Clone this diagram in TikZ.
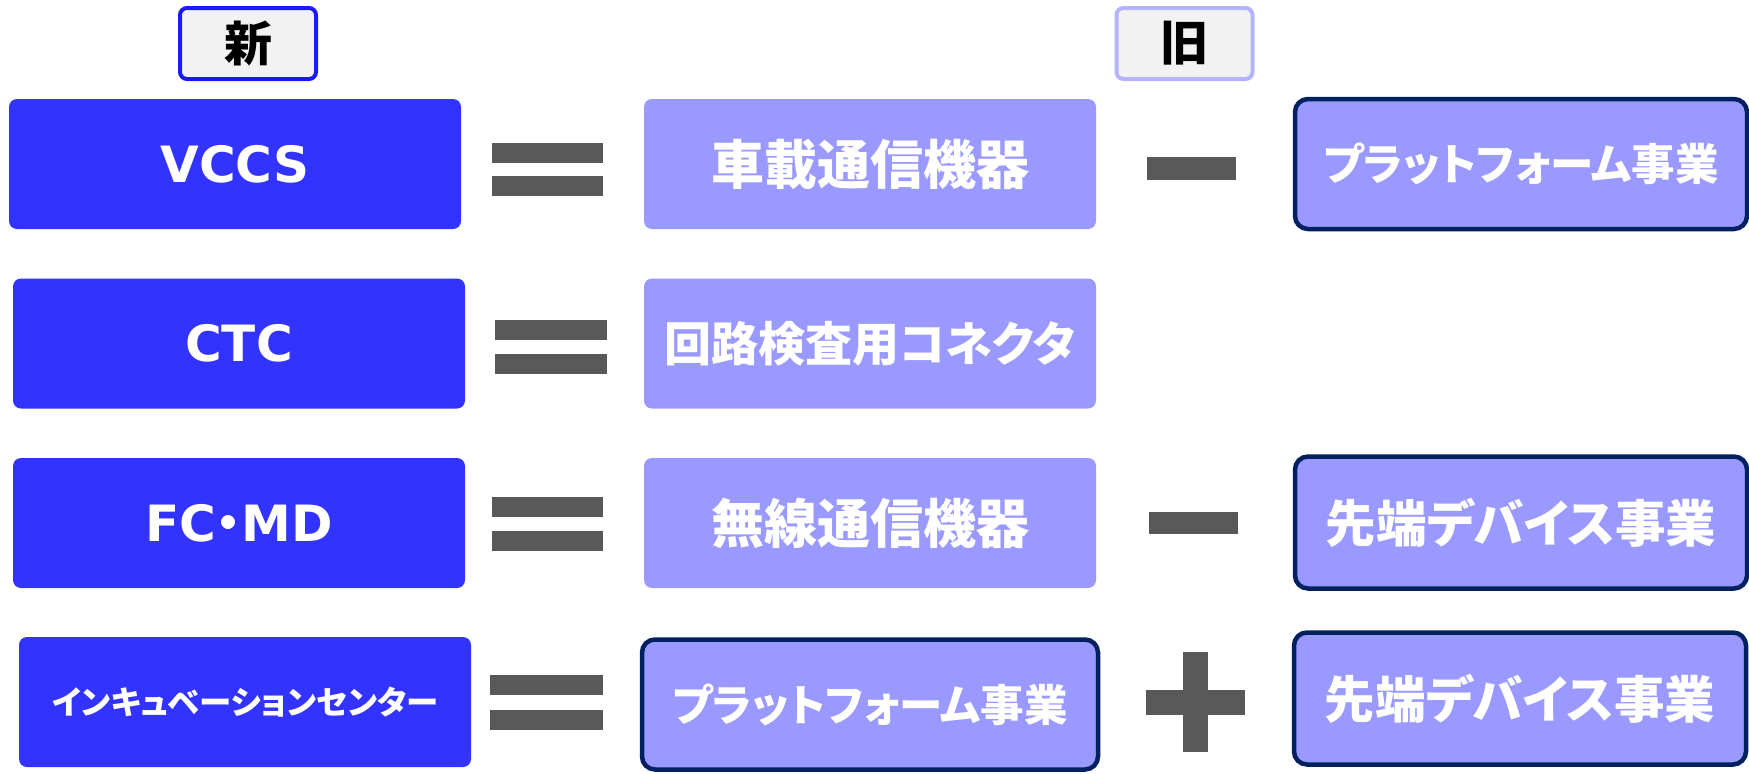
\documentclass[tikz,border=0pt]{standalone}
\usepackage{fontspec}
\newfontfamily\jpfont{Noto Sans CJK JP}[RawFeature=+palt]
\newfontfamily\latfont{DejaVu Sans}
\usetikzlibrary{positioning}

\definecolor{newblue}{HTML}{3333FF}
\definecolor{oldblue}{HTML}{9999FF}
\definecolor{navyline}{HTML}{002060}
\definecolor{signgray}{HTML}{595959}
\definecolor{headfill}{HTML}{F2F2F2}
\definecolor{newedge}{HTML}{1A1AFF}
\definecolor{oldedge}{HTML}{B3B3FF}

\tikzset{
	newbox/.style={fill=newblue, rounded corners=8pt, minimum width=452pt, minimum height=130pt, text=white, inner sep=0pt},
	oldbox/.style={fill=oldblue, rounded corners=8pt, minimum width=452pt, minimum height=130pt, text=white, inner sep=0pt},
	bizbox/.style={oldbox, draw=navyline, line width=4.5pt, rounded corners=13pt},
	headbox/.style={fill=headfill, line width=4pt, rounded corners=7pt, minimum width=136pt, minimum height=71pt, inner sep=0pt},
	sign/.style={fill=signgray},
	jptxt/.style={font=\jpfont\bfseries\fontsize{#1}{#1}\selectfont},
	latxt/.style={font=\latfont\bfseries\fontsize{50}{60}\selectfont}
}

\begin{document}
\begin{tikzpicture}[x=1pt, y=-1pt]
		%%%%% START %%%%%
		\useasboundingbox (0,0) rectangle (1749,774);
		
		% headings
		\node[headbox, draw=newedge, jptxt=48] (hnew) at (248,43.5) {新};
		\node[headbox, draw=oldedge, jptxt=48] (hold) at (1184.5,43.5) {旧};
		
		% row 1
		\node[newbox, latxt] (vccs) at (235,164) {VCCS};
		\node[oldbox, jptxt=53] (shaki) at (870,164) {車載通信機器};
		\node[bizbox, jptxt=43.5] (pform) at (1521,164) {プラットフォーム事業};
		\fill[sign] (492,143) rectangle (603,163);
		\fill[sign] (492,176) rectangle (603,196);
		\fill[sign] (1147,157) rectangle (1236,180);
		
		% row 2
		\node[newbox, latxt] (ctc) at (239,343.5) {CTC};
		\node[oldbox, jptxt=47] (kairo) at (870,343.5) {回路検査用コネクタ};
		\fill[sign] (495,320) rectangle (607,340);
		\fill[sign] (495,354) rectangle (607,374);
		
		% row 3
		\node[newbox, latxt] (fcmd) at (239,523) {FC{\jpfont ・}MD};
		\node[oldbox, jptxt=53] (musen) at (870,523) {無線通信機器};
		\node[bizbox, jptxt=50.5, minimum height=132pt] (sentan) at (1521,522.5) {先端デバイス事業};
		\fill[sign] (492,497) rectangle (603,517);
		\fill[sign] (492,531) rectangle (603,551);
		\fill[sign] (1149,512) rectangle (1238,534);
		
		% row 4
		\node[newbox, jptxt=32.4] (incub) at (245,702) {インキュベーションセンター};
		\node[bizbox, jptxt=43.5, minimum width=456pt] (pformb) at (870,704.5) {プラットフォーム事業};
		\node[bizbox, jptxt=50.5, minimum height=132pt] (sentanb) at (1520,698.5) {先端デバイス事業};
		\fill[sign] (490,675) rectangle (603,695);
		\fill[sign] (490,710) rectangle (603,730);
		\fill[sign] (1146,690) rectangle (1245,715);
		\fill[sign] (1183,652) rectangle (1208,752);
		
		%%%%% END %%%%%
	\end{tikzpicture}
\end{document}
